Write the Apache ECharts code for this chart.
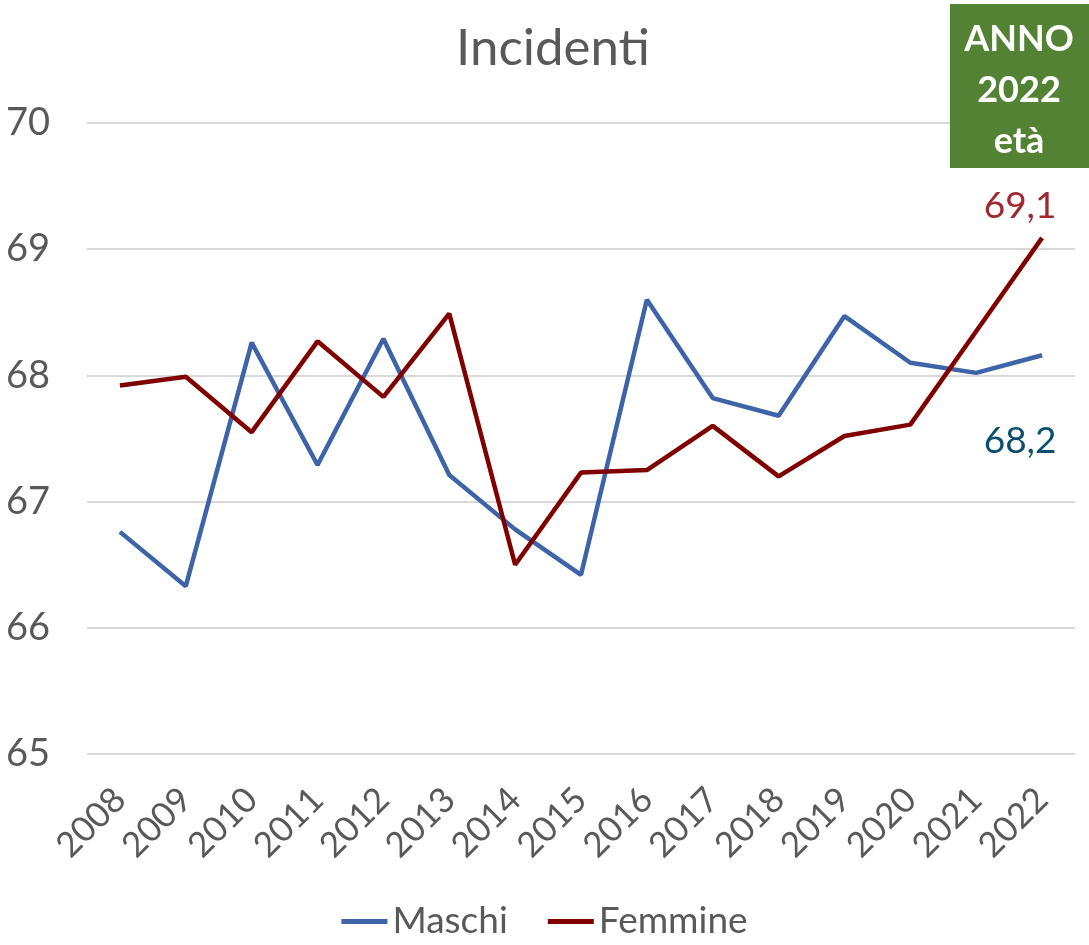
<!DOCTYPE html>
<html>
<head>
<meta charset="utf-8">
<script src="https://cdn.jsdelivr.net/npm/echarts@6/dist/echarts.min.js"></script>
<style>
	html, body { margin: 0; padding: 0; background: #fff; }
	#chart { width: 1089px; height: 945px; }
</style>
</head>
<body>
<div id="chart"></div>
<script>
// dati
var anni = ['2008', '2009', '2010', '2011', '2012', '2013', '2014', '2015', '2016', '2017', '2018', '2019', '2020', '2021', '2022']
var maschi = [66.76, 66.33, 68.26, 67.29, 68.29, 67.21, 66.78, 66.42, 68.60, 67.82, 67.68, 68.47, 68.10, 68.02, 68.16]
var femmine = [67.92, 67.99, 67.55, 68.27, 67.83, 68.49, 66.50, 67.23, 67.25, 67.60, 67.20, 67.52, 67.61, 68.35, 69.09]

var font = 'Lato, "Noto Sans", sans-serif'
var grigio = '#595959'

// etichetta solo sull'ultimo punto
function ultimo(arr, colore, pos, offset) {
	return arr.map(function (v, i) {
		if (i !== arr.length - 1) return v
		return {
			value: v,
			label: {
				show: true,
				position: pos,
				offset: offset,
				color: colore,
				fontSize: 37,
				fontFamily: font,
				formatter: function (p) {
					return p.value.toFixed(1).replace('.', ',')
				}
			}
		}
	})
}

var myChart = echarts.init(document.getElementById('chart'))
myChart.setOption({
	animation: false,
	title: {
		text: 'Incidenti',
		left: 548,
		textAlign: 'center',
		top: 18,
		textStyle: { color: grigio, fontSize: 51, fontWeight: 'normal', fontFamily: font }
	},
	grid: { left: 87, right: 14, top: 123, bottom: 191 },
	legend: {
		bottom: 0,
		left: 'center',
		itemWidth: 46,
		itemHeight: 5,
		itemGap: 40,
		icon: 'rect',
		textStyle: { color: grigio, fontSize: 37, fontFamily: font },
		data: ['Maschi', 'Femmine']
	},
	xAxis: {
		type: 'category',
		data: anni,
		axisLine: { show: false },
		axisTick: { show: false },
		axisLabel: { rotate: 45, color: grigio, fontSize: 35, fontFamily: font, margin: 40, interval: 0 }
	},
	yAxis: {
		type: 'value',
		min: 65,
		max: 70,
		interval: 1,
		axisLabel: { color: grigio, fontSize: 38, fontFamily: font, margin: 37 },
		splitLine: { lineStyle: { color: '#d9d9d9', width: 2 } }
	},
	graphic: [
		{
			type: 'rect',
			z: 100,
			shape: { x: 950, y: 4, width: 139, height: 164 },
			style: { fill: '#548235' }
		},
		{
			type: 'text',
			z: 101,
			x: 1019,
			y: 90,
			style: {
				text: 'ANNO\n2022\netà',
				fill: '#fff',
				fontSize: 36,
				fontWeight: 'bold',
				fontFamily: font,
				lineHeight: 51,
				align: 'center',
				verticalAlign: 'middle'
			}
		}
	],
	series: [
		{
			name: 'Maschi',
			type: 'line',
			data: ultimo(maschi, '#0b4f6c', 'bottom', [-22, 62]),
			symbol: 'circle',
			symbolSize: 0,
			color: '#3e63a6',
			lineStyle: { width: 4.5 }
		},
		{
			name: 'Femmine',
			type: 'line',
			data: ultimo(femmine, '#a0282e', 'top', [-22, -8]),
			symbol: 'circle',
			symbolSize: 0,
			color: '#800000',
			lineStyle: { width: 4.5 }
		}
	]
})
</script>
</body>
</html>
